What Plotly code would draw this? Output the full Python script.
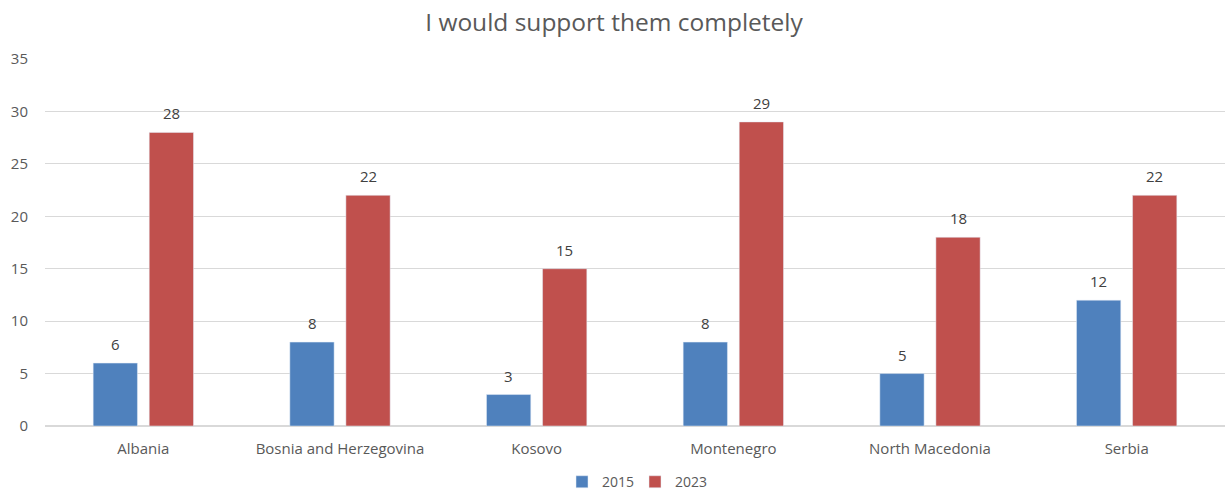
import plotly.graph_objects as go

countries = ["Albania", "Bosnia and Herzegovina", "Kosovo", "Montenegro", "North Macedonia", "Serbia"]
values_2015 = [6, 8, 3, 8, 5, 12]
values_2023 = [28, 22, 15, 29, 18, 22]
y_ticks = [0, 5, 10, 15, 20, 25, 30, 35]

font_family = "Open Sans, Liberation Sans, sans-serif"
text_gray = "#595959"
label_gray = "#404040"

fig = go.Figure()
fig.add_trace(go.Bar(name="2015", x=countries, y=values_2015, marker_color="#4F81BD"))
fig.add_trace(go.Bar(name="2023", x=countries, y=values_2023, marker_color="#C0504D"))

# value labels above each bar, offset to sit over the grouped bar
for series, shift in ((values_2015, -28), (values_2023, 28)):
    for cat, val in zip(countries, series):
        fig.add_annotation(x=cat, y=val, text=str(val), showarrow=False,
                           xshift=shift, yanchor="bottom", yshift=7,
                           font=dict(size=15, color=label_gray, family=font_family))

fig.update_layout(
    width=1228, height=493,
    margin=dict(l=45, r=3, t=59, b=67, autoexpand=False),
    paper_bgcolor="white", plot_bgcolor="white",
    barmode="group", bargap=0.43, bargroupgap=0.21,
    font=dict(family=font_family, color=text_gray, size=15),
    title=dict(text="I would support them completely", x=0.5, xanchor="center",
               y=0.955, yanchor="middle",
               font=dict(size=24.5, color=text_gray, family=font_family)),
    legend=dict(orientation="h", x=0.5, xanchor="center",
                y=-0.153, yanchor="middle",
                font=dict(size=14, color=text_gray), itemwidth=30,
                entrywidth=28, traceorder="normal"),
)
fig.update_yaxes(range=[0, 35], tickvals=y_ticks, showgrid=True, gridcolor="#D9D9D9",
                 gridwidth=1, zeroline=True, zerolinecolor="#D9D9D9", ticks="",
                 ticklabelstandoff=16, showline=False, automargin=False)
fig.update_xaxes(showgrid=False, ticks="", showline=False, ticklabelstandoff=12,
                 automargin=False)

fig.write_html("out.html")
